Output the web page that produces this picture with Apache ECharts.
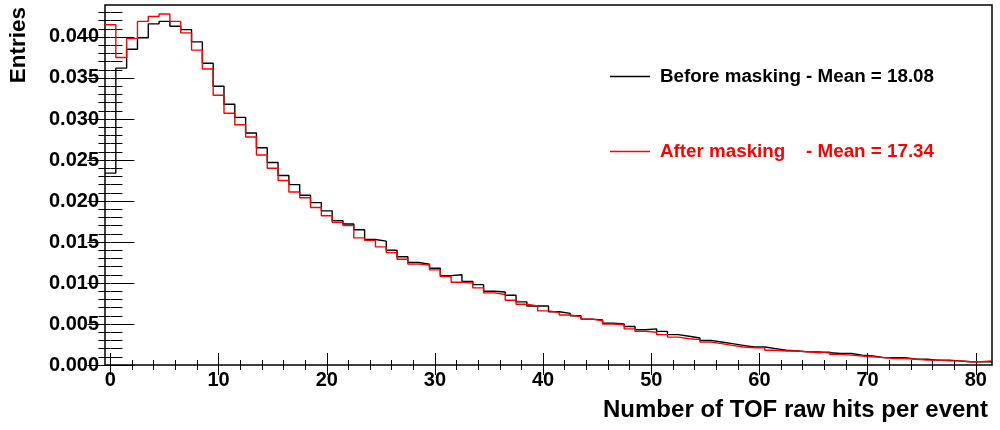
<!DOCTYPE html>
<html>
<head>
<meta charset="utf-8">
<script src="https://cdn.jsdelivr.net/npm/echarts@6/dist/echarts.min.js"></script>
<style>
    html, body {margin: 0; padding: 0; background: #fff;}
    #chart {width: 1000px; height: 430px;}
</style>
</head>
<body>
<div id="chart"></div>
<script>
// bin centres (number of raw hits), bin width 1
const bins = []
for (let i = 0; i <= 81; i++) bins.push(i)

const before = [
    0.0234, 0.0362, 0.0385, 0.0399, 0.0416, 0.0419, 0.0413, 0.0409, 0.0394, 0.0368,
    0.0340, 0.0318, 0.0302, 0.0283, 0.0265, 0.0247, 0.0231, 0.0220, 0.0207, 0.0198,
    0.0188, 0.0176, 0.0172, 0.0165, 0.0153, 0.0151, 0.0140, 0.0132, 0.0125, 0.0123,
    0.0118, 0.0109, 0.0110, 0.0102, 0.0098, 0.0090, 0.0089, 0.0085, 0.0077, 0.0072,
    0.0072, 0.0065, 0.0063, 0.0060, 0.0056, 0.0055, 0.0051, 0.0050, 0.0047, 0.0043,
    0.0044, 0.0041, 0.0037, 0.0035, 0.0033, 0.0030, 0.0028, 0.0026, 0.0024, 0.0022,
    0.0022, 0.0020, 0.0018, 0.0017, 0.0016, 0.0016, 0.0015, 0.0014, 0.0014, 0.0012,
    0.0011, 0.0009, 0.0009, 0.0009, 0.0007, 0.0007, 0.0006, 0.0006, 0.0005, 0.0004,
    0.0004, 0.0004
]
const after = [
    0.0415, 0.0375, 0.0398, 0.0419, 0.0425, 0.0428, 0.0419, 0.0405, 0.0384, 0.0361,
    0.0329, 0.0307, 0.0293, 0.0278, 0.0256, 0.0240, 0.0225, 0.0211, 0.0204, 0.0192,
    0.0182, 0.0174, 0.0170, 0.0155, 0.0152, 0.0144, 0.0137, 0.0129, 0.0123, 0.0122,
    0.0116, 0.0108, 0.0101, 0.0100, 0.0094, 0.0088, 0.0086, 0.0079, 0.0074, 0.0072,
    0.0066, 0.0064, 0.0061, 0.0059, 0.0056, 0.0054, 0.0050, 0.0049, 0.0044, 0.0041,
    0.0040, 0.0037, 0.0034, 0.0032, 0.0031, 0.0028, 0.0026, 0.0024, 0.0022, 0.0021,
    0.0021, 0.0018, 0.0017, 0.0017, 0.0016, 0.0015, 0.0016, 0.0013, 0.0012, 0.0011,
    0.0010, 0.0009, 0.0008, 0.0008, 0.0007, 0.0006, 0.0006, 0.0005, 0.0005, 0.0004,
    0.0004, 0.0005
]

const xTickLabels = [0, 10, 20, 30, 40, 50, 60, 70, 80]
const yTickLabels = ['0.000', '0.005', '0.010', '0.015', '0.020', '0.025', '0.030', '0.035', '0.040']

const beforeName = 'Before masking - Mean = 18.08'
const afterName = 'After masking    - Mean = 17.34'
const xTitle = 'Number of TOF raw hits per event'
const yTitle = 'Entries'

const FONT = 'Liberation Sans'
const X_MIN = -0.5, X_MAX = 81.5, Y_MIN = 0, Y_MAX = 0.0439

// minor ticks: 5 divisions between majors
const xMinor = []
for (let v = 0; v <= 80; v += 2) if (v % 10 !== 0) xMinor.push(v)
const yMajor = yTickLabels.map(Number)
const yMinor = []
for (let k = 1; k <= 43; k++) if (k % 5 !== 0) yMinor.push(k / 1000)

// step outline: left edge of every bin, plus the right edge of the last bin
const toSteps = (vals) => {
    let pts = bins.map((b, i) => [b - 0.5, vals[i]])
    pts.push([bins[bins.length - 1] + 0.5, vals[vals.length - 1]])
    return pts
}

const tickStyle = {color: '#000', width: 1}

const xAxisDef = (position, ticks, len, labels) => ({
    type: 'value', min: X_MIN, max: X_MAX, position: position,
    axisLine: {show: false},
    splitLine: {show: false},
    axisTick: {show: true, inside: true, length: len, customValues: ticks, lineStyle: tickStyle},
    axisLabel: labels ? {
        show: true, customValues: ticks, margin: 5,
        fontFamily: FONT, fontWeight: 'bold', fontSize: 20, color: '#000'
    } : {show: false}
})

const yAxisDef = (position, ticks, len, labels) => ({
    type: 'value', min: Y_MIN, max: Y_MAX, position: position,
    axisLine: {show: false},
    splitLine: {show: false},
    axisTick: {show: true, inside: true, length: len, customValues: ticks, lineStyle: tickStyle},
    axisLabel: labels ? {
        show: true, customValues: ticks, margin: 6,
        formatter: v => v.toFixed(3),
        fontFamily: FONT, fontWeight: 'bold', fontSize: 20, color: '#000'
    } : {show: false}
})

const chart = echarts.init(document.getElementById('chart'), null, {renderer: 'canvas'})

const option = {
    animation: false,
    backgroundColor: '#fff',
    grid: {
        left: 105, right: 8, top: 5, bottom: 65,
        show: true, borderColor: '#000', borderWidth: 1.5, backgroundColor: 'transparent'
    },
    xAxis: [
        xAxisDef('bottom', xTickLabels, 12, true),
        xAxisDef('bottom', xMinor, 5, false),
        xAxisDef('top', xTickLabels, 10, false),
        xAxisDef('top', xMinor, 5, false)
    ],
    yAxis: [
        yAxisDef('left', yMajor, 24, true),
        yAxisDef('left', yMinor, 12, false),
        yAxisDef('right', yMajor, 23, false),
        yAxisDef('right', yMinor, 12, false)
    ],
    legend: {
        orient: 'vertical',
        left: 610, top: 67,
        padding: 0,
        icon: 'rect',
        itemWidth: 40, itemHeight: 1.5,
        itemGap: 56,
        selectedMode: false,
        textStyle: {fontFamily: FONT, fontWeight: 'bold', fontSize: 18.8, padding: [0, 0, 0, 5]},
        data: [
            {name: beforeName, textStyle: {color: '#000'}},
            {name: afterName, textStyle: {color: '#ff0000'}}
        ]
    },
    graphic: [
        {
            type: 'text', right: 12, top: 398,
            style: {text: xTitle, fontFamily: FONT, fontWeight: 'bold', fontSize: 24, fill: '#000'}
        },
        {
            type: 'text', x: 19, y: 7, rotation: Math.PI / 2,
            style: {
                text: yTitle, fontFamily: FONT, fontWeight: 'bold', fontSize: 22.5, fill: '#000',
                align: 'right', verticalAlign: 'middle'
            }
        }
    ],
    series: [
        {
            name: beforeName, type: 'line', step: 'end',
            xAxisIndex: 0, yAxisIndex: 0,
            symbol: 'none',
            lineStyle: {color: '#000', width: 1.4},
            itemStyle: {color: '#000'},
            data: toSteps(before)
        },
        {
            name: afterName, type: 'line', step: 'end',
            xAxisIndex: 0, yAxisIndex: 0,
            symbol: 'none',
            lineStyle: {color: '#ff0000', width: 1.4},
            itemStyle: {color: '#ff0000'},
            data: toSteps(after)
        }
    ]
}

chart.setOption(option)
</script>
</body>
</html>
